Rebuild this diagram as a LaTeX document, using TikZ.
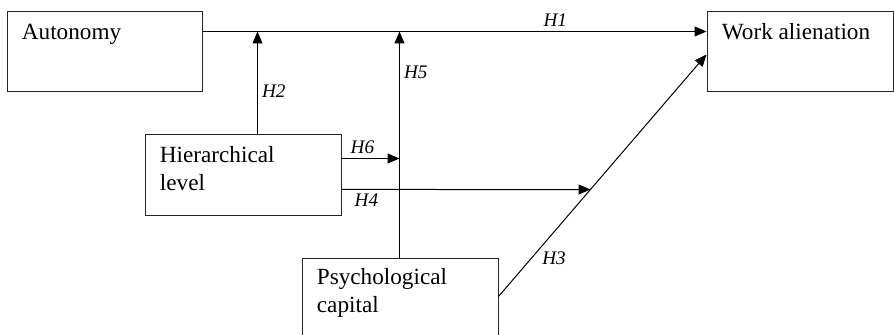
\documentclass[tikz,border=0pt]{standalone}
\usepackage{fontspec}
\setmainfont{Liberation Serif}
\usetikzlibrary{arrows.meta,calc}

\begin{document}
\begin{tikzpicture}
 [x=0.5pt,y=-0.5pt,
% Box styles
    box/.style={rectangle,draw=black!85,line width=0.5pt,
        minimum height=40pt,inner sep=0pt},
    boxtext/.style={anchor=north west,inner sep=0pt,align=left,
        font=\fontsize{11.6}{14}\selectfont,xshift=7.5pt,yshift=-6pt},
% Path styles
    arr/.style={line width=0.5pt,-{Triangle[length=6pt,width=5pt]}},
    tag/.style={font=\fontsize{9.6}{11}\selectfont\itshape,inner sep=2pt}
    ]
 \useasboundingbox (0,0) rectangle (894,335);
 \clip (0,0) rectangle (894,335);
%% Draw variables
 \node (aut) [box,minimum width=97.5pt] at (104.5,52) {};
 \node [boxtext] at (aut.north west) {Autonomy};
 \node (wa)  [box,minimum width=93pt] at (800,52) {};
 \node [boxtext] at (wa.north west) {Work alienation};
 \node (hier) [box,minimum width=98pt,minimum height=40.5pt] at (243,175.5) {};
 \node [boxtext] at (hier.north west) {Hierarchical\\level};
 \node (psy) [box,minimum width=98pt,minimum height=41pt] at (400,300) {};
 \node [boxtext,yshift=1pt] at (psy.north west) {Psychological\\capital};
%% Draw hypotheses
 \coordinate (a1) at ([yshift=-10pt]aut.north east);
 \coordinate (w1) at ([yshift=-10pt]wa.north west);
 \draw[arr] (a1) -- (w1) node[tag,pos=0.7,above] {H1};
 \coordinate (h2) at ([xshift=56.5pt]hier.north west);
 \draw[arr] (h2) -- (h2 |- a1) node[tag,pos=0.42,right] {H2};
 \coordinate (h5) at ([xshift=49pt]psy.north west);
 \draw[arr] (h5) -- (h5 |- a1) node[tag,pos=0.82,right] {H5};
 \coordinate (h6) at ([yshift=-12pt]hier.north east);
 \draw[arr] (h6) -- (h6 -| h5) node[tag,pos=0.36,above] {H6};
 \coordinate (h3) at ([yshift=-19pt]psy.north east);
 \coordinate (w3) at ([yshift=-21.5pt]wa.north west);
 \draw[arr] (h3) -- (w3) node[tag,pos=0.16,right=3pt] {H3};
 \coordinate (h4) at ([yshift=-27.5pt]hier.north east);
 \coordinate (h4t) at ([xshift=100pt]h4);
 \coordinate (j4) at (intersection of h3--w3 and h4--h4t);
 \draw[arr] (h4) -- (j4) node[tag,pos=0.1,below] {H4};
\end{tikzpicture}
\end{document}
